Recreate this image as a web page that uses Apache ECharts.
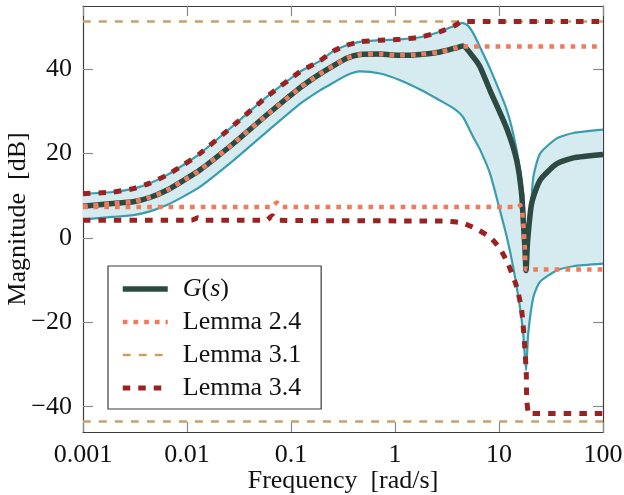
<!DOCTYPE html>
<html>
<head>
<meta charset="utf-8">
<script src="https://cdn.jsdelivr.net/npm/echarts@6/dist/echarts.min.js"></script>
<style>
  html, body { margin: 0; padding: 0; background: #fff; }
  #chart { width: 624px; height: 495px; }
</style>
</head>
<body>
<div id="chart"></div>
<script>
// frequency [rad/s], magnitude [dB]
const gCurve = [
  [0.001, 7.5], [0.00194, 8.2], [0.00305, 8.6], [0.0044, 9.6], [0.0064, 11.3], [0.0092, 13.6],
  [0.0133, 16.1], [0.028, 22.4], [0.058, 29.1], [0.122, 35.6], [0.19, 38.9], [0.255, 40.8],
  [0.343, 42.6], [0.46, 43.5], [0.72, 43.6], [1.12, 43.3], [1.74, 43.5], [2.71, 44.1],
  [3.78, 45.0], [4.5, 45.5], [5.66, 42.9], [6.56, 40.6], [8.19, 35.0], [11.9, 25.9],
  [14.8, 18.4], [16.5, 10.5], [17.1, 4.2], [17.8, -3.0], [18.2, -7.7], [18.8, -1.0],
  [20.6, 8.2], [24.8, 13.7], [35.9, 17.6], [51.8, 19.0], [100, 19.8]
];
const bandUpper = [
  [0.001, 10.5], [0.00194, 10.9], [0.00305, 11.7], [0.0044, 13.0], [0.0064, 14.9], [0.0092, 17.3],
  [0.0133, 20.0], [0.028, 26.7], [0.058, 33.4], [0.122, 39.4], [0.19, 42.0], [0.255, 44.3],
  [0.343, 45.7], [0.46, 46.5], [0.72, 46.9], [1.12, 47.1], [1.74, 47.6], [2.71, 48.9],
  [3.78, 50.4], [4.4, 51.0], [5.0, 50.4], [5.66, 48.5], [6.56, 45.3], [8.19, 40.2], [11.9, 30.3],
  [14.8, 20.8], [17.1, 10.5], [17.8, 1.0], [18.3, -7.0], [19.0, -1.0], [20.2, 6.6], [21.4, 14.5],
  [24.8, 20.0], [35.9, 23.6], [51.8, 24.9], [100, 25.7]
];
const bandLower = [
  [0.001, 4.4], [0.00194, 5.0], [0.00305, 5.4], [0.0044, 6.3], [0.0064, 7.8], [0.0092, 9.8],
  [0.0133, 12.1], [0.028, 18.4], [0.058, 25.1], [0.122, 31.8], [0.19, 35.0], [0.255, 36.8],
  [0.343, 38.6], [0.46, 39.5], [0.72, 39.0], [1.12, 37.4], [1.74, 35.2], [2.71, 32.6],
  [3.78, 30.5], [4.5, 28.7], [5.66, 23.9], [6.56, 21.0], [8.19, 15.3], [10.0, 7.4],
  [11.9, 0.2], [13.7, -6.9], [15.9, -16.4], [17.1, -22.7], [18.2, -31.4], [19.1, -22.7],
  [21.4, -14.0], [24.8, -10.4], [35.9, -7.7], [51.8, -6.7], [100, -6.1]
];
const lemma24Upper = [
  [0.001, 7.5], [0.00194, 8.2], [0.00305, 8.6], [0.0044, 9.6], [0.0064, 11.3], [0.0092, 13.6],
  [0.0133, 16.1], [0.028, 22.4], [0.058, 29.1], [0.122, 35.6], [0.19, 38.9], [0.255, 40.8],
  [0.343, 42.6], [0.46, 43.5], [0.72, 43.6], [1.12, 43.3], [1.74, 43.5], [2.71, 44.1],
  [3.78, 45.0], [4.5, 45.4], [100, 45.4]
];
const lemma24Lower = [
  [0.001, 7.35], [0.065, 7.35], [0.073, 8.4], [0.082, 7.35], [15.2, 7.35], [16.0, 7.8],
  [16.6, 6.5], [17.1, 3.5], [17.8, -3.0], [18.2, -7.5], [100, -7.5]
];
const lemma31Upper = [[0.001, 51.3], [100, 51.3]];
const lemma31Lower = [[0.001, -43.5], [100, -43.5]];
const lemma34Upper = [
  [0.001, 10.5], [0.00194, 10.9], [0.00305, 11.7], [0.0044, 13.0], [0.0064, 14.9], [0.0092, 17.3],
  [0.0133, 20.0], [0.028, 26.7], [0.058, 33.4], [0.122, 39.4], [0.19, 42.0], [0.255, 44.3],
  [0.343, 45.7], [0.46, 46.5], [0.72, 46.9], [1.12, 47.1], [1.74, 47.6], [2.71, 48.9],
  [3.78, 50.4], [4.4, 51.3], [100, 51.3]
];
const lemma34Lower = [
  [0.001, 4.2], [0.011, 4.2], [0.0128, 4.8], [0.0145, 4.2], [0.058, 4.2], [0.066, 5.3],
  [0.074, 4.2], [2.9, 4.0], [4.4, 3.6], [6.0, 2.2], [8.19, 0.2], [10.2, -2.5], [12.2, -6.1],
  [14.8, -11.6], [16.5, -17.1], [17.6, -25.0], [18.3, -32.2], [18.5, -38.5], [19.4, -41.8],
  [20.5, -41.6], [100, -41.6]
];
const xTickLabels = ['0.001', '0.01', '0.1', '1', '10', '100'];
const yTicks = [-40, -20, 0, 20, 40];
const legendNames = ['G(s)', 'Lemma 2.4', 'Lemma 3.1', 'Lemma 3.4'];

const font = '"Liberation Serif", "DejaVu Serif", serif';
const fs = 26;
const frameColor = '#3c3c3c';
const tickColor = '#8a8a8a';

const chart = echarts.init(document.getElementById('chart'));

function line(name, data, color, width, type, z) {
  return {
    name: name,
    type: 'line',
    data: data,
    symbol: 'none',
    smooth: 0.2,
    z: z,
    lineStyle: { color: color, width: width, type: type, cap: 'butt' },
    itemStyle: { color: color }
  };
}

function xAxisCfg(pos) {
  return {
    type: 'log',
    logBase: 10,
    min: 0.001,
    max: 100,
    position: pos,
    splitNumber: 5,
    axisLine: { show: true, onZero: false, lineStyle: { color: frameColor, width: 1.2 } },
    axisTick: { show: true, inside: true, length: 10, lineStyle: { color: tickColor, width: 1.2 } },
    minorTick: { show: false },
    splitLine: { show: false },
    axisLabel: {
      show: pos === 'bottom',
      margin: 10,
      fontFamily: font,
      fontSize: fs,
      color: '#111',
      formatter: function (v) {
        return xTickLabels[Math.round(Math.log10(v)) + 3];
      }
    },
    name: pos === 'bottom' ? 'Frequency\u2002[rad/s]' : '',
    nameLocation: 'middle',
    nameGap: 36,
    nameMoveOverlap: false,
    nameTextStyle: { fontFamily: font, fontSize: fs, color: '#111' }
  };
}

function yAxisCfg(pos) {
  return {
    type: 'value',
    min: -46,
    max: 55,
    position: pos,
    axisLine: { show: true, onZero: false, lineStyle: { color: frameColor, width: 1.2 } },
    axisTick: { show: true, inside: true, length: 10, customValues: yTicks, lineStyle: { color: tickColor, width: 1.2 } },
    splitLine: { show: false },
    axisLabel: {
      show: pos === 'left',
      customValues: yTicks,
      margin: 11,
      fontFamily: font,
      fontSize: fs,
      color: '#111',
      formatter: function (v) {
        return v < 0 ? '\u2212' + (-v) : String(v);
      }
    },
    name: pos === 'left' ? 'Magnitude\u2002[dB]' : '',
    nameLocation: 'middle',
    nameGap: 52,
    nameMoveOverlap: false,
    nameTextStyle: { fontFamily: font, fontSize: fs, color: '#111' }
  };
}

const teal = '#3a9dad';
const options = {
  animation: false,
  grid: { left: 83, right: 21, top: 6, bottom: 63, containLabel: false, outerBoundsMode: 'none' },
  xAxis: [xAxisCfg('bottom'), xAxisCfg('top')],
  yAxis: [yAxisCfg('left'), yAxisCfg('right')],
  legend: {
    data: legendNames,
    orient: 'vertical',
    left: 108,
    top: 266,
    padding: [10, 20, 8, 12],
    itemWidth: 45,
    itemHeight: 14,
    itemGap: 7,
    backgroundColor: '#fff',
    borderColor: frameColor,
    borderWidth: 1.2,
    borderRadius: 0,
    itemStyle: { color: 'rgba(0,0,0,0)', borderWidth: 0, opacity: 0 },
    lineStyle: { width: 'inherit', type: 'inherit' },
    textStyle: {
      fontFamily: font,
      fontSize: fs,
      color: '#111',
      padding: [0, 0, 0, 10],
      rich: {
        it: { fontFamily: font, fontSize: fs, fontStyle: 'italic', color: '#111' }
      }
    },
    formatter: function (name) {
      return name === 'G(s)' ? '{it|G}({it|s})' : name;
    }
  },
  series: [
    {
      type: 'custom',
      name: 'band',
      silent: true,
      z: 1,
      data: [[0.001, 0]],
      renderItem: function (params, api) {
        if (params.dataIndex !== 0) return;
        const pts = bandUpper.map(function (p) { return api.coord(p); })
          .concat(bandLower.slice().reverse().map(function (p) { return api.coord(p); }));
        return { type: 'polygon', shape: { points: pts }, style: { fill: '#d5ebef' } };
      }
    },
    line('band upper', bandUpper, teal, 2.2, 'solid', 2),
    line('band lower', bandLower, teal, 2.2, 'solid', 2),
    line('G(s)', gCurve, '#2d4a42', 5.5, 'solid', 3),
    line('Lemma 2.4', lemma24Upper, '#ee7c5c', 4.5, [4.7, 6], 4),
    line('Lemma 2.4', lemma24Lower, '#ee7c5c', 4.5, [4.7, 6], 4),
    line('Lemma 3.1', lemma31Upper, '#c9a264', 2.5, [8, 8], 4),
    line('Lemma 3.1', lemma31Lower, '#c9a264', 2.5, [8, 8], 4),
    line('Lemma 3.4', lemma34Upper, '#9b2222', 5, [7.5, 8], 5),
    line('Lemma 3.4', lemma34Lower, '#9b2222', 5, [7.5, 8], 5)
  ]
};

chart.setOption(options);
</script>
</body>
</html>
